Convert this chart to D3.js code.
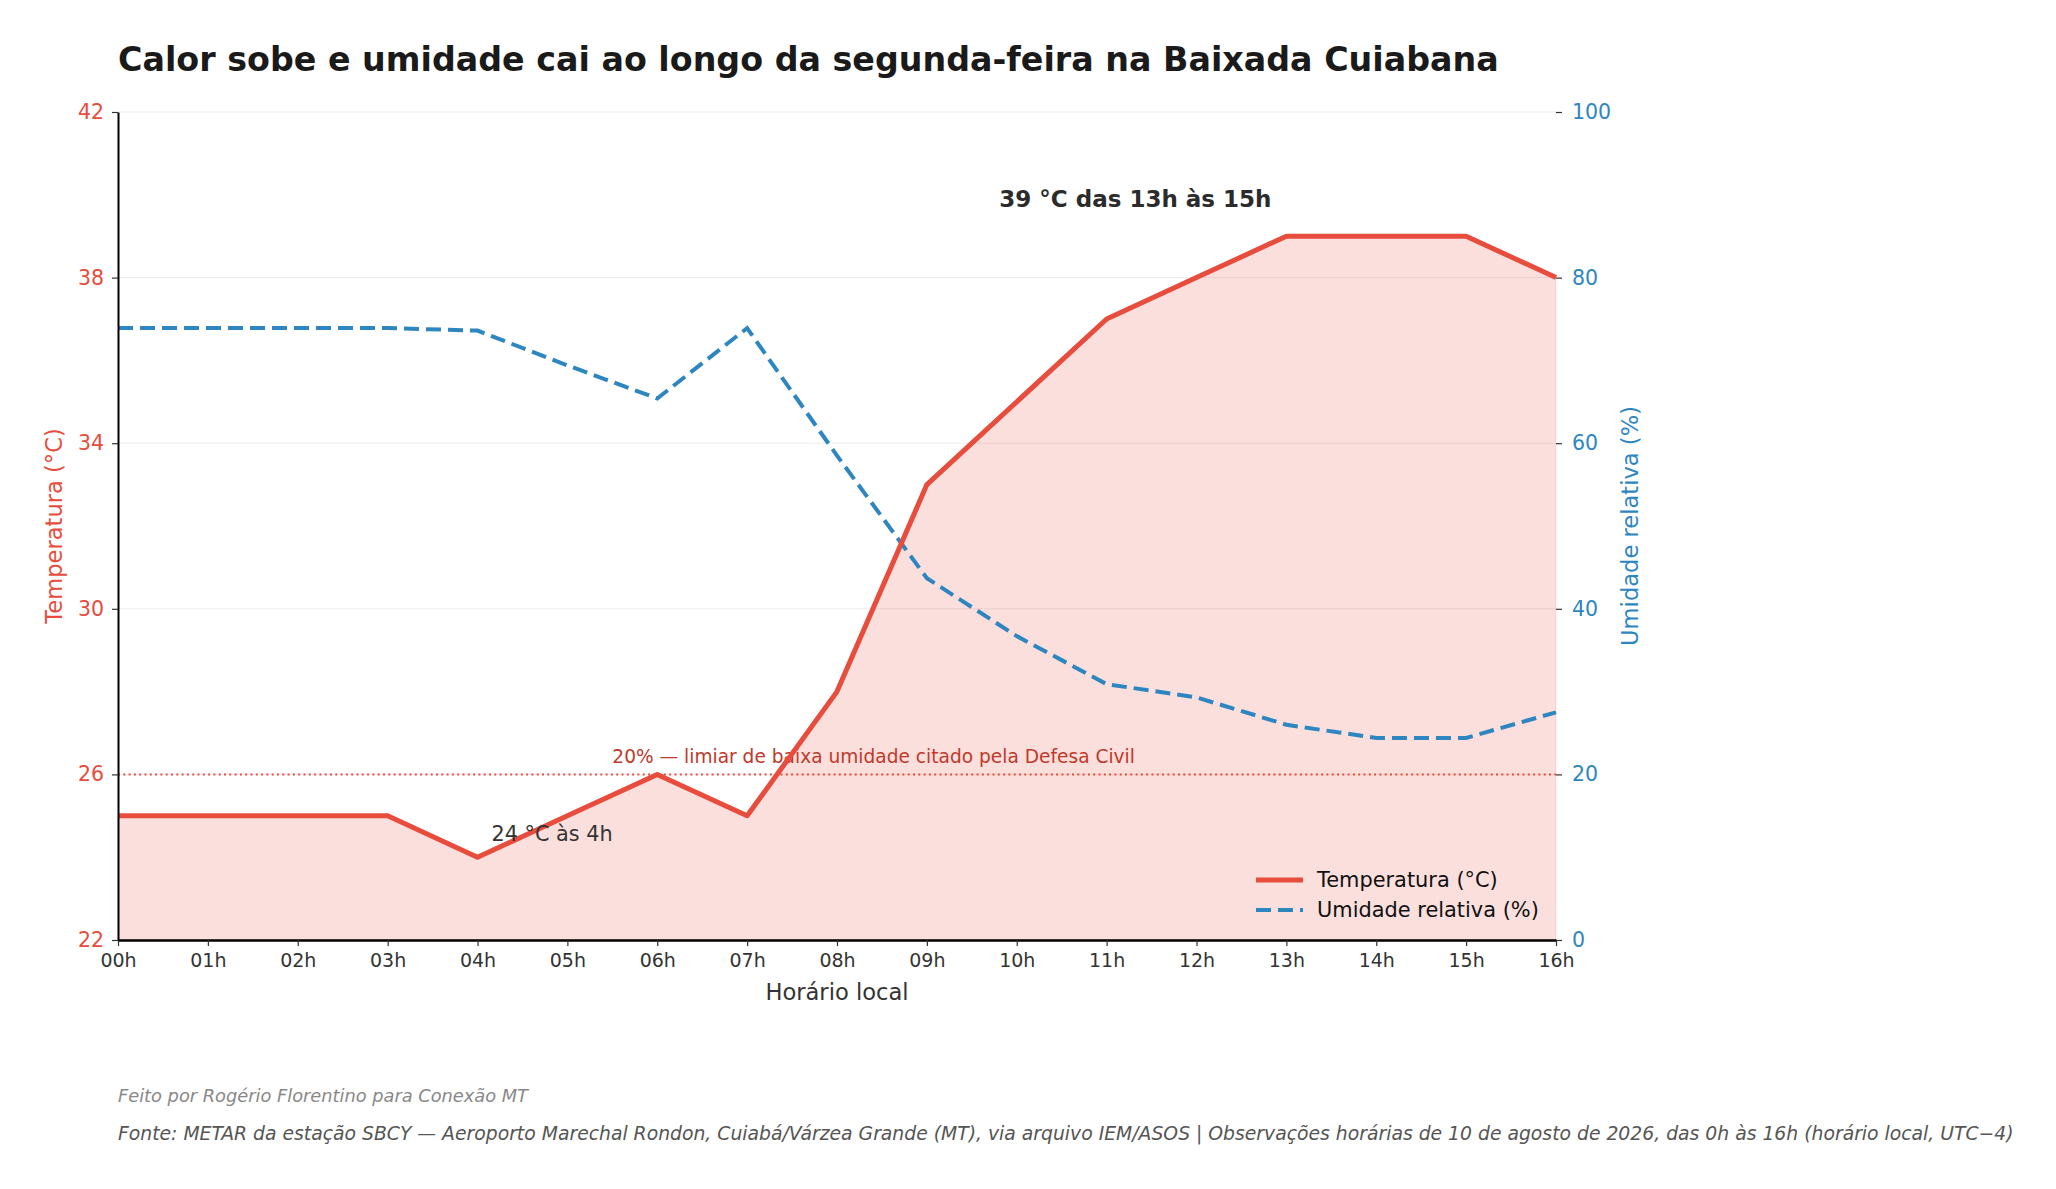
<!DOCTYPE html>
<html>
<head>
<meta charset="utf-8">
<script src="https://cdn.jsdelivr.net/npm/d3@7"></script>
<style>
  body { margin: 0; background: #fff; }
  svg text { font-family: "DejaVu Sans", sans-serif; }
</style>
</head>
<body>
<div id="chart"></div>
<script>
// horas locais (0h a 16h)
const hours = [0, 1, 2, 3, 4, 5, 6, 7, 8, 9, 10, 11, 12, 13, 14, 15, 16];
const hourLabels = ["00h", "01h", "02h", "03h", "04h", "05h", "06h", "07h", "08h",
                    "09h", "10h", "11h", "12h", "13h", "14h", "15h", "16h"];
const temperature = [25, 25, 25, 25, 24, 25, 26, 25, 28, 33, 35, 37, 38, 39, 39, 39, 38];
const humidity = [73.9, 73.9, 73.9, 73.9, 73.6, 69.4, 65.4, 73.9, 58.5, 43.7, 36.7, 30.9, 29.3, 26.0, 24.4, 24.4, 27.5];
const tempTicks = [22, 26, 30, 34, 38, 42];
const humTicks = [0, 20, 40, 60, 80, 100];
const threshold = 20;

const width = 2056, height = 1189;
const margin = { top: 112, right: 500, bottom: 249, left: 118 };
const red = "#e74c3c", blue = "#2e86c1";

const svg = d3.select("#chart").append("svg")
    .attr("width", width)
    .attr("height", height);

const x = d3.scaleLinear()
    .domain([0, 16])
    .range([margin.left, width - margin.right]);

const yT = d3.scaleLinear()
    .domain([22, 42])
    .range([height - margin.bottom, margin.top]);

const yH = d3.scaleLinear()
    .domain([0, 100])
    .range([height - margin.bottom, margin.top]);

const x0 = x.range()[0], x1 = x.range()[1];

// grid
svg.append("g")
    .selectAll("line")
    .data(tempTicks)
    .enter()
    .append("line")
    .attr("x1", x0).attr("x2", x1)
    .attr("y1", d => yT(d)).attr("y2", d => yT(d))
    .attr("stroke", "#ebebeb")
    .attr("stroke-width", 1);

// area under temperature
const area = d3.area()
    .x((d, i) => x(hours[i]))
    .y0(yT(22))
    .y1(d => yT(d));

svg.append("path")
    .datum(temperature)
    .attr("d", area)
    .attr("fill", red)
    .attr("fill-opacity", 0.18)
    .attr("stroke", red)
    .attr("stroke-opacity", 0.12)
    .attr("stroke-width", 1);

// threshold line
svg.append("line")
    .attr("x1", x0).attr("x2", x1)
    .attr("y1", yH(threshold)).attr("y2", yH(threshold))
    .attr("stroke", red)
    .attr("stroke-width", 2)
    .attr("stroke-dasharray", "2,3.3");

svg.append("text")
    .attr("x", x(5.5))
    .attr("y", yH(threshold) - 11)
    .attr("fill", "#c0392b")
    .style("font-size", "18.6px")
    .text("20% — limiar de baixa umidade citado pela Defesa Civil");

// lines
const lineT = d3.line()
    .x((d, i) => x(hours[i]))
    .y(d => yT(d));

const lineH = d3.line()
    .x((d, i) => x(hours[i]))
    .y(d => yH(d));

svg.append("path")
    .datum(humidity)
    .attr("d", lineH)
    .attr("fill", "none")
    .attr("stroke", blue)
    .attr("stroke-width", 4)
    .attr("stroke-dasharray", "15,7");

svg.append("path")
    .datum(temperature)
    .attr("d", lineT)
    .attr("fill", "none")
    .attr("stroke", red)
    .attr("stroke-width", 5)
    .attr("stroke-linejoin", "round");

// axes
const xAxis = svg.append("g")
    .attr("transform", `translate(0,${yT(22)})`)
    .call(d3.axisBottom(x).tickValues(hours).tickFormat((d, i) => hourLabels[i]).tickSize(6).tickSizeOuter(0));
xAxis.select(".domain").attr("stroke", "#000").attr("stroke-width", 2.5);
xAxis.selectAll(".tick line").attr("stroke", "#333").attr("stroke-width", 1.2);
xAxis.selectAll("text").attr("fill", "#333").style("font-size", "19px").attr("dy", "0.95em");

const yAxisL = svg.append("g")
    .attr("transform", `translate(${x0},0)`)
    .call(d3.axisLeft(yT).tickValues(tempTicks).tickSize(6).tickSizeOuter(0));
yAxisL.select(".domain").attr("stroke", "#000").attr("stroke-width", 2);
yAxisL.selectAll(".tick line").attr("stroke", "#333").attr("stroke-width", 1.2);
yAxisL.selectAll("text").attr("fill", red).style("font-size", "20.5px").attr("x", -14);

const yAxisR = svg.append("g")
    .attr("transform", `translate(${x1},0)`)
    .call(d3.axisRight(yH).tickValues(humTicks).tickSize(6).tickSizeOuter(0));
yAxisR.select(".domain").remove();
yAxisR.selectAll(".tick line").attr("stroke", "#333").attr("stroke-width", 1.2);
yAxisR.selectAll("text").attr("fill", blue).style("font-size", "20.5px").attr("x", 16);

// axis titles
svg.append("text")
    .attr("x", (x0 + x1) / 2)
    .attr("y", 1000)
    .attr("text-anchor", "middle")
    .attr("fill", "#333")
    .style("font-size", "22.6px")
    .text("Horário local");

svg.append("text")
    .attr("transform", `translate(62,${(yT(22) + yT(42)) / 2}) rotate(-90)`)
    .attr("text-anchor", "middle")
    .attr("fill", red)
    .style("font-size", "22.6px")
    .text("Temperatura (°C)");

svg.append("text")
    .attr("transform", `translate(1638,${(yT(22) + yT(42)) / 2}) rotate(-90)`)
    .attr("text-anchor", "middle")
    .attr("fill", blue)
    .style("font-size", "22.6px")
    .text("Umidade relativa (%)");

// annotations
svg.append("text")
    .attr("x", x(4) + 14)
    .attr("y", yT(24) - 16)
    .attr("fill", "#333")
    .style("font-size", "20.8px")
    .text("24 °C às 4h");

svg.append("text")
    .attr("x", x(11.32))
    .attr("y", 207)
    .attr("text-anchor", "middle")
    .attr("fill", "#2b2b2b")
    .style("font-size", "23px")
    .style("font-weight", "bold")
    .text("39 °C das 13h às 15h");

// legend
const legendItems = [
  { label: "Temperatura (°C)", color: red, dash: null, w: 5 },
  { label: "Umidade relativa (%)", color: blue, dash: "15,7", w: 4 }
];
const legend = svg.append("g").attr("transform", "translate(1256,880)");
legend.selectAll("line")
    .data(legendItems)
    .enter()
    .append("line")
    .attr("x1", 0).attr("x2", 47)
    .attr("y1", (d, i) => i * 30).attr("y2", (d, i) => i * 30)
    .attr("stroke", d => d.color)
    .attr("stroke-width", d => d.w)
    .attr("stroke-dasharray", d => d.dash);
legend.selectAll("text")
    .data(legendItems)
    .enter()
    .append("text")
    .attr("x", 61)
    .attr("y", (d, i) => i * 30 + 7)
    .attr("fill", "#111")
    .style("font-size", "20.9px")
    .text(d => d.label);

// title
svg.append("text")
    .attr("x", 118)
    .attr("y", 71)
    .attr("fill", "#1a1a1a")
    .style("font-size", "33.3px")
    .style("font-weight", "bold")
    .text("Calor sobe e umidade cai ao longo da segunda-feira na Baixada Cuiabana");

// footer
svg.append("text")
    .attr("x", 118)
    .attr("y", 1102)
    .attr("fill", "#888")
    .style("font-size", "17.8px")
    .style("font-style", "italic")
    .text("Feito por Rogério Florentino para Conexão MT");

svg.append("text")
    .attr("x", 118)
    .attr("y", 1140)
    .attr("fill", "#555")
    .style("font-size", "18.8px")
    .style("font-style", "italic")
    .text("Fonte: METAR da estação SBCY — Aeroporto Marechal Rondon, Cuiabá/Várzea Grande (MT), via arquivo IEM/ASOS | Observações horárias de 10 de agosto de 2026, das 0h às 16h (horário local, UTC−4)");
</script>
</body>
</html>
